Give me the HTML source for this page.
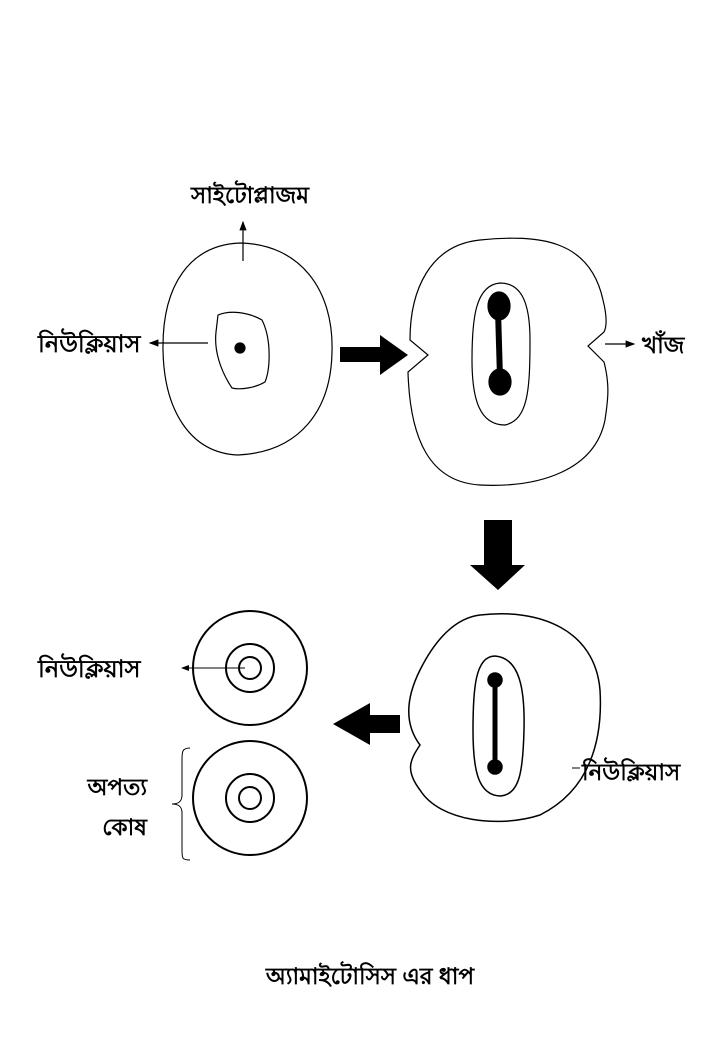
<!DOCTYPE html>
<html><head><meta charset="utf-8"><style>
html,body{margin:0;padding:0;background:#fff}
svg{display:block}
text{font-family:"Liberation Sans","Noto Sans CJK SC",sans-serif;fill:#000;font-weight:bold}
</style></head><body>
<svg width="720" height="1040" viewBox="0 0 720 1040">
<defs><marker id="ah" markerWidth="8" markerHeight="8" refX="7" refY="4" orient="auto"><path d="M0,1 L8,4 L0,7 Z" fill="#000"/></marker></defs>

<g fill="none" stroke="#000" stroke-width="1.2">
<path d="M240,243 C300,244 334,290 332,352 C331,410 300,452 238,455 C190,453 164,410 163,350 C162,285 190,245 240,243 Z"/>
<path d="M218,315 C230,310 248,312 262,320 C272,340 270,370 265,382 C255,388 240,390 232,388 C220,370 214,350 216,332 Z"/>
<circle cx="240" cy="348" r="5" fill="#000"/>
<line x1="243" y1="261" x2="243" y2="222" marker-end="url(#ah)"/>
<line x1="208" y1="343" x2="150" y2="343" marker-end="url(#ah)"/>
</g>
<text x="250" y="203" font-size="23" text-anchor="middle">সাইটোপ্লাজম</text>
<text x="38" y="352" font-size="24">নিউক্লিয়াস</text>

<path d="M340,347 H380 V335 L408,355 L380,375 V362 H340 Z" fill="#000"/>

<g fill="none" stroke="#000" stroke-width="1.2">
<path d="M480,240 C540,234 590,240 603,300 C608,320 606,328 604,332 L588,346 L604,362 C610,385 608,400 605,420 C595,470 540,488 480,485 C430,482 410,440 408,372 L428,355 L410,340 C410,290 430,245 480,240 Z"/>
<path d="M500,283 C520,283 530,300 530,340 C530,390 528,420 505,425 C480,425 472,400 472,360 C472,320 475,285 500,283 Z"/>
<line x1="498" y1="310" x2="500" y2="378" stroke-width="6"/>
<ellipse cx="499" cy="306" rx="11" ry="14" fill="#000"/>
<ellipse cx="500" cy="382" rx="11" ry="13" fill="#000"/>
<line x1="605" y1="344" x2="634" y2="344" marker-end="url(#ah)"/>
</g>
<text x="642" y="353" font-size="23">খাঁজ</text>

<path d="M484,520 H512 V565 H525 L498,590 L470,565 H484 Z" fill="#000"/>

<g fill="none" stroke="#000" stroke-width="1.5">
<path d="M480,615 C540,608 595,630 600,690 C603,740 590,790 540,815 C500,828 440,822 420,790 C405,770 410,760 420,745 C405,725 405,700 420,670 C435,640 455,618 480,615 Z"/>
<path d="M495,656 C520,658 525,690 524,730 C523,770 520,795 500,796 C478,795 473,770 473,730 C473,690 475,656 495,656 Z"/>
<line x1="495" y1="680" x2="495" y2="767" stroke-width="5"/>
<circle cx="495" cy="680" r="7" fill="#000"/>
<circle cx="495" cy="767" r="7" fill="#000"/>
<line x1="572" y1="768" x2="580" y2="768" stroke-width="1"/>
</g>
<text x="582" y="780" font-size="23">নিউক্লিয়াস</text>

<path d="M400,715 H370 V703 L333,724 L370,745 V733 H400 Z" fill="#000"/>

<g fill="none" stroke="#000" stroke-width="2">
<circle cx="250" cy="668" r="57"/><circle cx="250" cy="668" r="24"/><circle cx="250" cy="668" r="11"/>
<circle cx="250" cy="798" r="57"/><circle cx="250" cy="798" r="24"/><circle cx="250" cy="798" r="11"/>
<line x1="245" y1="668" x2="182" y2="668" stroke-width="1" marker-end="url(#ah)"/>
<path d="M190,748 C182,748 182,752 182,760 L182,795 C182,802 178,804 172,804 C178,804 182,806 182,813 L182,850 C182,858 182,860 190,860" stroke-width="1"/>
</g>
<text x="38" y="677" font-size="24">নিউক্লিয়াস</text>
<text x="147" y="795" font-size="23" text-anchor="end">অপত্য</text>
<text x="147" y="835" font-size="23" text-anchor="end">কোষ</text>

<text x="370" y="984" font-size="23" text-anchor="middle">অ্যামাইটোসিস এর ধাপ</text>
</svg>
</body></html>
